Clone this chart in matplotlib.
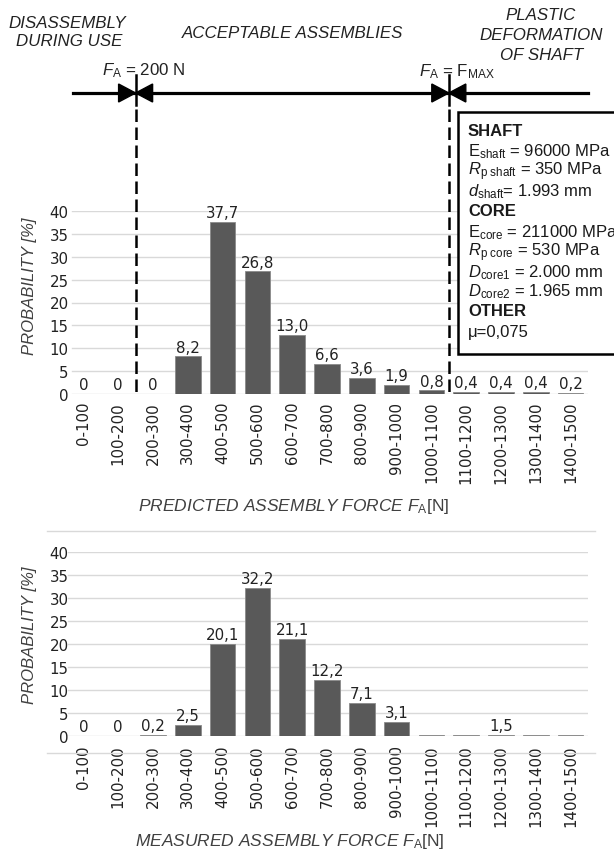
import numpy as np
import matplotlib
matplotlib.use("Agg")
import matplotlib.pyplot as plt
from matplotlib.patches import Polygon, Rectangle
from matplotlib.lines import Line2D

plt.rcParams["mathtext.fontset"] = "custom"
plt.rcParams["mathtext.rm"] = "Liberation Sans"
plt.rcParams["mathtext.it"] = "Liberation Sans:italic"
plt.rcParams["mathtext.bf"] = "Liberation Sans:bold"

# ---- data -------------------------------------------------------------
categories = ["0-100", "100-200", "200-300", "300-400", "400-500", "500-600",
              "600-700", "700-800", "800-900", "900-1000", "1000-1100",
              "1100-1200", "1200-1300", "1300-1400", "1400-1500"]
predicted = [0, 0, 0, 8.2, 37.7, 26.8, 13.0, 6.6, 3.6, 1.9, 0.8, 0.4, 0.4, 0.4, 0.2]
measured = [0, 0, 0.2, 2.5, 20.1, 32.2, 21.1, 12.2, 7.1, 3.1, 0.3, 0.3, 0.3, 0.3, 0.3]
measured_tail_start = 10      # bins from here on carry one combined label
measured_tail_label_bin = 12
y_ticks = [0, 5, 10, 15, 20, 25, 30, 35, 40]
lower_limit_edge = 1.5        # F_A = 200 N
upper_limit_edge = 10.5       # F_A = F_MAX

W, H = 614, 854
LBL = "DejaVu Sans"
ARI = "Liberation Sans"
BAR = "#595959"
GRID = "#d9d9d9"
TXT = "#222222"
LBL_SIZE = 10.8


def fy(y):
    return 1 - y / H


def px_rect(l, t, r, b):
    return [l / W, 1 - b / H, (r - l) / W, (b - t) / H]


def fmt(v):
    return "0" if v == 0 else f"{v:.1f}".replace(".", ",")


fig = plt.figure(figsize=(W / 100, H / 100), dpi=100)
fig.patch.set_facecolor("white")

ax1 = fig.add_axes(px_rect(66, 212, 588, 395))
ax2 = fig.add_axes(px_rect(66, 553, 588, 737))


def setup(ax, grid_left_px, xpad):
    x = np.arange(len(categories))
    ax.set_xlim(-0.5, len(categories) - 0.5)
    ax.set_ylim(0, 40)
    for s in ax.spines.values():
        s.set_visible(False)
    xmin = (grid_left_px - 66) / (588 - 66)
    for t in y_ticks:
        ax.axhline(t, xmin=xmin, xmax=1, color=GRID, lw=1.0, zorder=1)
    ax.set_yticks(y_ticks)
    ax.set_yticklabels([str(t) for t in y_ticks], family=LBL, fontsize=LBL_SIZE, color=TXT)
    ax.set_xticks(x)
    ax.set_xticklabels(categories, rotation=90, family=LBL, fontsize=LBL_SIZE, color=TXT)
    ax.tick_params(axis="both", length=0)
    ax.tick_params(axis="y", pad=-2)
    ax.tick_params(axis="x", pad=xpad)
    ax.set_facecolor("none")
    return x


x = setup(ax1, 72, 5)
ax1.bar(x, predicted, width=0.74, color=BAR, edgecolor="#8a8a8a", linewidth=0.6, zorder=3)
for i, v in enumerate(predicted):
    ax1.text(i, v + 0.4, fmt(v), ha="center", va="bottom", family=LBL,
             fontsize=LBL_SIZE, color=TXT, zorder=4)

x = setup(ax2, 68, 6)
ax2.bar(x, measured, width=0.74, color=BAR, edgecolor="#8a8a8a", linewidth=0.6, zorder=3)
for i, v in enumerate(measured[:measured_tail_start]):
    ax2.text(i, v + 0.4, fmt(v), ha="center", va="bottom", family=LBL,
             fontsize=LBL_SIZE, color=TXT, zorder=4)
tail_total = round(sum(measured[measured_tail_start:]), 1)
ax2.text(measured_tail_label_bin, max(measured[measured_tail_start:]) + 0.4,
         fmt(tail_total), ha="center", va="bottom", family=LBL, fontsize=LBL_SIZE,
         color=TXT, zorder=4)

# axis titles
for yc in (286, 635):
    fig.text(30 / W, fy(yc), "PROBABILITY [%]", rotation=90, ha="center", va="center",
             family=ARI, style="italic", fontsize=12, color="#404040")
fig.text(294 / W, fy(507), r"$\mathit{PREDICTED\ ASSEMBLY\ FORCE\ F}_{\mathrm{A}}$[N]",
         ha="center", va="center", family=ARI, fontsize=12.5, color="#404040")
fig.text(290 / W, fy(842), r"$\mathit{MEASURED\ ASSEMBLY\ FORCE\ F}_{\mathrm{A}}$[N]",
         ha="center", va="center", family=ARI, fontsize=12.5, color="#404040")

# light frame lines around the lower chart
for yl in (532, 754):
    fig.add_artist(Line2D([47 / W, 595 / W], [fy(yl)] * 2, color=GRID, lw=1.0,
                          transform=fig.transFigure))

# ---- zone diagram above the upper chart ----------------------------------
arrow_y = 94
fig.add_artist(Line2D([73 / W, 588 / W], [fy(arrow_y)] * 2, color="black", lw=2.3,
                      transform=fig.transFigure, zorder=6))

bottom_px = H - ax1.transData.transform((0, 0))[1]
for edge in (lower_limit_edge, upper_limit_edge):
    xp = ax1.transData.transform((edge, 0))[0]
    # short solid tick through the arrow, dashed marker below it
    fig.add_artist(Line2D([xp / W] * 2, [fy(76), fy(arrow_y + 12)], color="black",
                          lw=1.8, transform=fig.transFigure, zorder=6))
    fig.add_artist(Line2D([xp / W] * 2, [fy(arrow_y + 16), fy(bottom_px)], color="black",
                          lw=1.8, dashes=(5, 2.2), transform=fig.transFigure, zorder=6))
    for d in (-1, 1):
        tri = [(xp / W, fy(arrow_y)),
               ((xp + d * 17) / W, fy(arrow_y - 9)),
               ((xp + d * 17) / W, fy(arrow_y + 9))]
        fig.add_artist(Polygon(tri, closed=True, color="black",
                               transform=fig.transFigure, zorder=7))

hdr = dict(ha="center", va="center", family=ARI, style="italic", fontsize=12.2, color=TXT)
fig.text(67 / W, fy(23), "DISASSEMBLY", **hdr)
fig.text(69 / W, fy(42), "DURING USE", **hdr)
fig.text(293 / W, fy(33), "ACCEPTABLE ASSEMBLIES", **hdr)
fig.text(541 / W, fy(15), "PLASTIC", **hdr)
fig.text(541 / W, fy(35), "DEFORMATION", **hdr)
fig.text(542 / W, fy(55), "OF SHAFT", **hdr)

fig.text(102 / W, fy(71), r"$F_{\mathrm{A}}$ = 200 N", ha="left", va="center",
         family=ARI, fontsize=12.2, color=TXT)
fig.text(419 / W, fy(72), r"$F_{\mathrm{A}}$ = F$_{\mathrm{MAX}}$", ha="left",
         va="center", family=ARI, fontsize=12.2, color=TXT)

# ---- material parameter box ---------------------------------------------
fig.add_artist(Rectangle((458 / W, fy(355)), (640 - 458) / W, (355 - 113) / H,
                         facecolor="white", edgecolor="black", lw=1.8,
                         transform=fig.transFigure, zorder=8))
box_lines = [
    ("SHAFT", True),
    (r"E$_{\mathrm{shaft}}$ = 96000 MPa", False),
    (r"$R_{\mathrm{p\ shaft}}$ = 350 MPa", False),
    (r"$d_{\mathrm{shaft}}$= 1.993 mm", False),
    ("CORE", True),
    (r"E$_{\mathrm{core}}$ = 211000 MPa", False),
    (r"$R_{\mathrm{p\ core}}$ = 530 MPa", False),
    (r"$D_{\mathrm{core1}}$ = 2.000 mm", False),
    (r"$D_{\mathrm{core2}}$ = 1.965 mm", False),
    ("OTHER", True),
    ("\u03bc=0,075", False),
]
line_y = [132, 152, 172, 192, 212, 233, 253, 273, 292, 312, 333]
for (txt, bold), yy in zip(box_lines, line_y):
    fig.text(468 / W, fy(yy), txt, ha="left", va="center", family=ARI,
             fontsize=12, fontweight="bold" if bold else "normal",
             color="#1a1a1a", zorder=9)

fig.savefig("out.png", dpi=100)
